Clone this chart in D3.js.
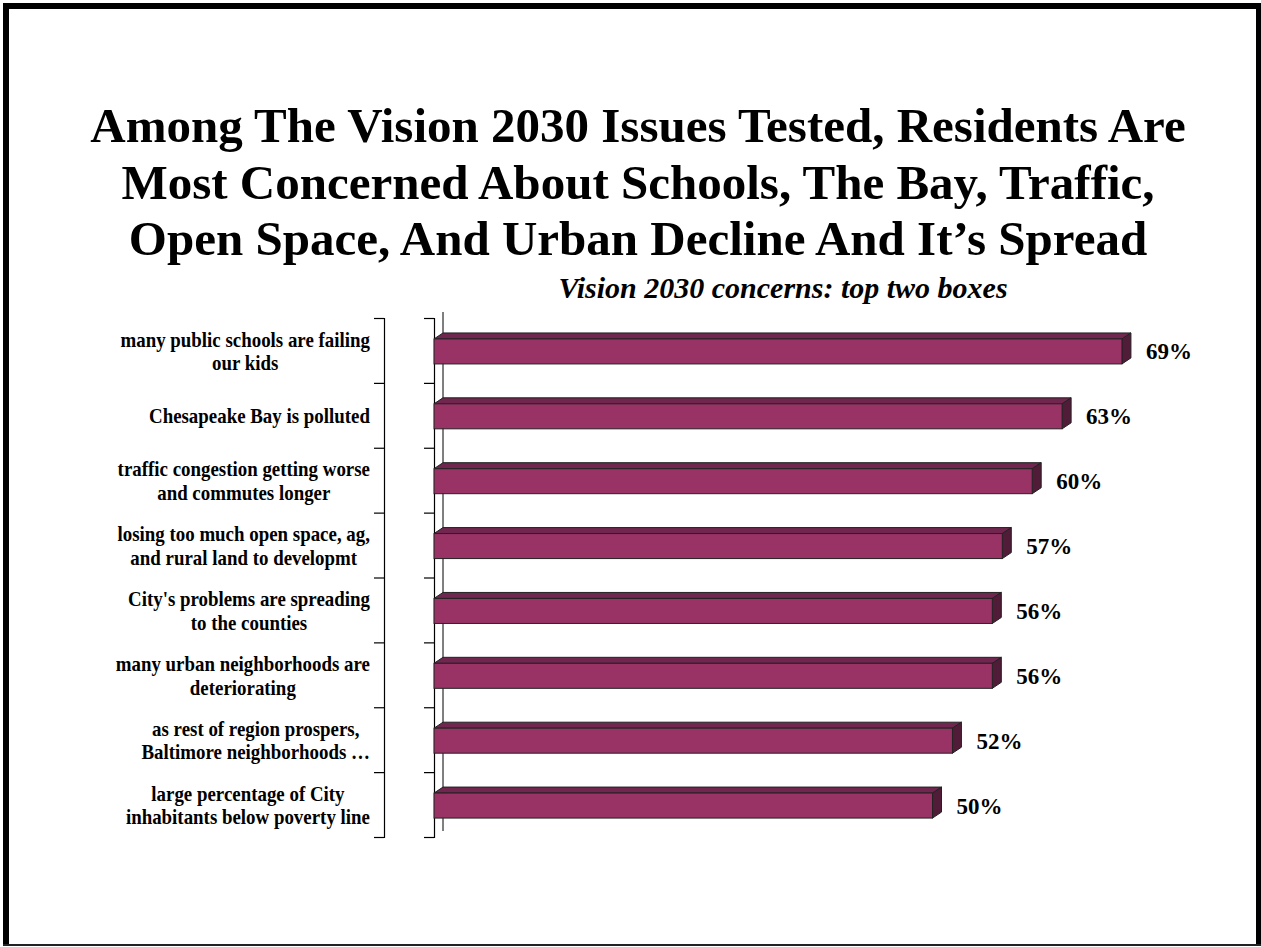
<!DOCTYPE html>
<html>
<head>
<meta charset="utf-8">
<script src="https://cdn.jsdelivr.net/npm/d3@7"></script>
<style>
  body { margin: 0; background: #fff; }
  svg { display: block; }
</style>
</head>
<body>
<svg width="1261" height="947"></svg>
<script>
const categories = [
  ['many public schools are failing', 'our kids'],
  ['Chesapeake Bay is polluted'],
  ['traffic congestion getting worse', 'and commutes longer'],
  ['losing too much open space, ag,', 'and rural land to developmt'],
  ["City's problems are spreading", 'to the counties'],
  ['many urban neighborhoods are', 'deteriorating'],
  ['as rest of region prospers,', 'Baltimore neighborhoods \u2026'],
  ['large percentage of City', 'inhabitants below poverty line']
]
const values = [69, 63, 60, 57, 56, 56, 52, 50]
const titleLines = [
  'Among The Vision 2030 Issues Tested, Residents Are',
  'Most Concerned About Schools, The Bay, Traffic,',
  'Open Space, And Urban Decline And It\u2019s Spread'
]
const subtitle = 'Vision 2030 concerns: top two boxes'

const svg = d3.select('svg')
  .style('font-family', '"Liberation Serif"')
  .style('font-weight', 'bold')
const W = 1261, H = 947

// frame
svg.append('rect').attr('x', 0).attr('y', 0).attr('width', W).attr('height', H).attr('fill', '#fff')
svg.append('rect').attr('x', 3).attr('y', 3).attr('width', 1256).attr('height', 6).attr('fill', '#000')
svg.append('rect').attr('x', 3).attr('y', 3).attr('width', 6).attr('height', 942).attr('fill', '#000')
svg.append('rect').attr('x', 1256).attr('y', 3).attr('width', 5).attr('height', 942).attr('fill', '#000')
svg.append('rect').attr('x', 3).attr('y', 944).attr('width', 1258).attr('height', 2).attr('fill', '#222')

// title
svg.append('g').selectAll('text')
  .data(titleLines)
  .enter().append('text')
  .attr('x', 638)
  .attr('y', (d, i) => 142 + i * 56.5)
  .attr('text-anchor', 'middle')
  .style('font-size', '49px')
  .text(d => d)

svg.append('text')
  .attr('x', 783)
  .attr('y', 298)
  .attr('text-anchor', 'middle')
  .style('font-size', '30px')
  .style('font-style', 'italic')
  .text(subtitle)

// scales
const y = d3.scaleBand()
  .domain(d3.range(categories.length))
  .range([318, 837])
const yEdge = d3.scaleLinear().domain([0, categories.length]).range([318, 837])
const x = d3.scaleLinear().domain([0, 70]).range([434, 434 + 9.97 * 70])

const dx = 9, dy = -6, barH = 25

// back wall line (3D depth of value axis)
svg.append('line')
  .attr('x1', x(0) + dx).attr('x2', x(0) + dx)
  .attr('y1', 318 + dy).attr('y2', 837 + dy)
  .attr('stroke', '#000').attr('stroke-width', 1)

// category axis with bracket ticks at the band edges
const catAxis = d3.axisLeft(yEdge).ticks(categories.length).tickFormat('').tickSize(10).tickSizeOuter(10)
svg.append('g').attr('transform', 'translate(434,0)').call(catAxis)
svg.append('g').attr('transform', 'translate(384,0)').call(catAxis)
svg.selectAll('.domain, .tick line').attr('stroke', '#000').attr('stroke-width', 1.2)

// bars
const bars = svg.append('g').selectAll('g')
  .data(values)
  .enter().append('g')

const barTop = (d, i) => y(i) + y.bandwidth() / 2 + 1 - barH / 2

bars.append('path')
  .attr('d', (d, i) => {
    const t = barTop(d, i)
    return `M${x(0)},${t}L${x(0) + dx},${t + dy}L${x(d) + dx},${t + dy}L${x(d)},${t}Z`
  })
  .attr('fill', '#70264e').attr('stroke', '#222').attr('stroke-width', 1)

bars.append('path')
  .attr('d', (d, i) => {
    const t = barTop(d, i)
    return `M${x(d)},${t}L${x(d) + dx},${t + dy}L${x(d) + dx},${t + barH + dy}L${x(d)},${t + barH}Z`
  })
  .attr('fill', '#501c38').attr('stroke', '#222').attr('stroke-width', 1)

bars.append('rect')
  .attr('x', x(0))
  .attr('y', (d, i) => barTop(d, i))
  .attr('width', d => x(d) - x(0))
  .attr('height', barH)
  .attr('fill', '#993366').attr('stroke', '#222').attr('stroke-width', 1)

bars.append('text')
  .attr('x', d => x(d) + 24)
  .attr('y', (d, i) => y(i) + y.bandwidth() / 2 + 9)
  .style('font-size', '23px')
  .text(d => d + '%')

// category labels: block right-aligned at 370, lines centered inside block
// (the source text is a bit squeezed horizontally)
const sx = 0.9
const labelG = svg.append('g')
categories.forEach((lines, i) => {
  const lh = 23.5
  const cy = y(i) + y.bandwidth() / 2
  const texts = lines.map((ln, j) => labelG.append('text')
    .attr('text-anchor', 'middle')
    .style('font-size', '21px')
    .text(ln))
  const maxW = d3.max(texts, t => t.node().getComputedTextLength()) * sx
  texts.forEach((t, j) => {
    const by = cy + 8 - (lines.length - 1) * lh / 2 + j * lh
    t.attr('transform', `translate(${370 - maxW / 2},${by}) scale(${sx},1)`)
  })
})
</script>
</body>
</html>
